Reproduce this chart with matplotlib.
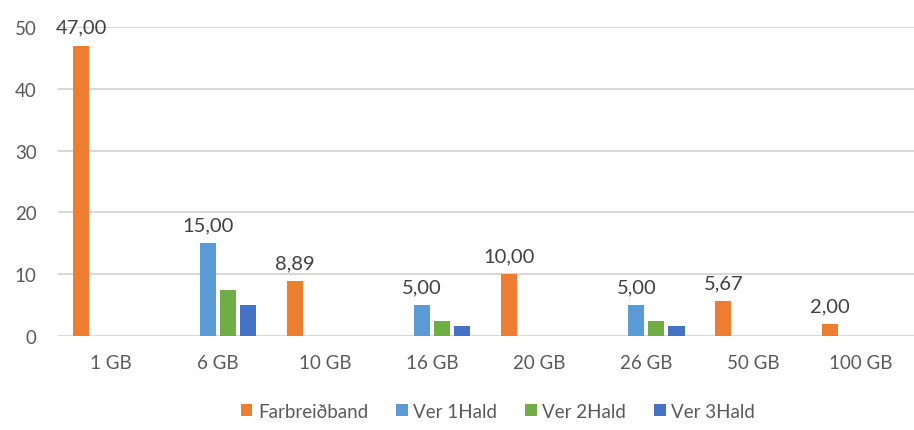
import numpy as np
import matplotlib.pyplot as plt

plt.rcParams['font.family'] = ['Lato', 'DejaVu Sans']

categories = ['1 GB', '6 GB', '10 GB', '16 GB', '20 GB', '26 GB', '50 GB', '100 GB']
series_names = ['Farbreiðband', 'Ver 1Hald', 'Ver 2Hald', 'Ver 3Hald']
farbreidband = [47.00, 0, 8.89, 0, 10.00, 0, 5.67, 2.00]
ver1 = [0, 15.00, 0, 5.00, 0, 5.00, 0, 0]
ver2 = [0, 7.50, 0, 2.50, 0, 2.50, 0, 0]
ver3 = [0, 5.00, 0, 1.67, 0, 1.67, 0, 0]
colors = ['#ED7D31', '#5B9BD5', '#70AD47', '#4472C4']
labelled = [True, True, False, False]

fig = plt.figure(figsize=(9.14, 4.31), dpi=100)
ax = fig.add_axes([0.063, 0.218, 0.937, 0.717])

x = np.arange(len(categories))
slot = 0.1875
width = 0.15
text_col = '#595959'
for i, vals in enumerate([farbreidband, ver1, ver2, ver3]):
    pos = x + (i - 1.5) * slot
    ax.bar(pos, vals, width, color=colors[i], label=series_names[i], zorder=3)
    if labelled[i]:
        for p, v in zip(pos, vals):
            if v > 0:
                ax.annotate(f'{v:.2f}'.replace('.', ','), (p, v), xytext=(0, 7),
                            textcoords='offset points', ha='center', va='bottom',
                            fontsize=14.5, color='#404040')

ax.set_xlim(-0.5, len(categories) - 0.5)
ax.set_ylim(0, 50)
ax.set_yticks(range(0, 51, 10))
ax.set_xticks(x)
ax.set_xticklabels(categories)
ax.yaxis.grid(True, color='#d9d9d9', linewidth=1.5, zorder=0)
ax.set_axisbelow(True)
for s in ax.spines.values():
    s.set_visible(False)
ax.tick_params(axis='both', length=0, labelsize=13.5, colors=text_col)
ax.tick_params(axis='x', pad=13)
ax.tick_params(axis='y', pad=15)

fig.legend(loc='lower center', ncol=4, frameon=False, fontsize=13.5,
           bbox_to_anchor=(0.545, -0.015), handlelength=0.6, handleheight=0.6,
           columnspacing=1.5, handletextpad=0.3, labelcolor=text_col)

fig.savefig('out.png', dpi=100)
